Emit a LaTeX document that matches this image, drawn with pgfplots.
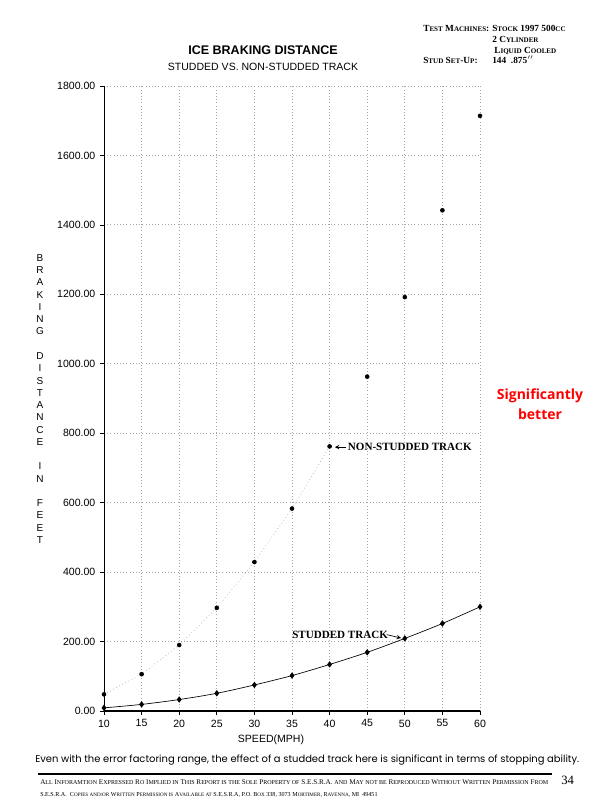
\documentclass[border=0pt]{standalone}
\usepackage{fontspec}
\setmainfont{Liberation Sans}
\newfontfamily\seriffont{Liberation Serif}
\newfontfamily\redfont{Open Sans}
\newfontfamily\comicfont{Poppins}
\usepackage{graphicx}
\usepackage{pgfplots}
\pgfplotsset{compat=1.18}
\newcommand\fs[1]{\fontsize{#1}{#1}\selectfont}
\newcommand\sct[1]{{\fontsize{5.3}{6}\selectfont #1}}
\newcommand\scf[1]{{\fontsize{4.2}{5}\selectfont #1}}
\begin{document}
\begin{tikzpicture}
\useasboundingbox (0pt,0pt) rectangle (450pt,603.75pt);
\begin{axis}[at={(78pt,70.5pt)}, anchor=south west, scale only axis,
  width=282pt, height=468.75pt,
  xmin=10, xmax=60, ymin=0, ymax=1800,
  xtick={10,15,...,60}, ytick={0,200,...,1800},
  axis x line*=bottom, axis y line*=left,
  x axis line style={-, line width=1.1pt},
  y axis line style={-, line width=0.6pt},
  tick align=outside, major tick length=3pt,
  tick style={black, line width=0.5pt},
  grid=major, major grid style={dotted, gray!70, line width=0.6pt},
  ticklabel style={font=\fs{7.9}},
  /pgf/number format/assume math mode=true,
  yticklabel style={/pgf/number format/.cd, fixed, fixed zerofill, precision=2, 1000 sep={}},
  xticklabel style={/pgf/number format/.cd, fixed, precision=0},
  clip=false]
\addplot[gray!50, dotted, line width=0.6pt, forget plot] coordinates {
 (10,48) (15,106) (20,190) (25,297) (30,429) (35,583) (40,762)};
\addplot[only marks, mark=*, mark size=1.5pt, black] coordinates {
 (10,48) (15,106) (20,190) (25,297) (30,429) (35,583) (40,762) (45,963) (50,1192) (55,1442) (60,1714)};
\addplot[black, line width=0.5pt, smooth, mark=diamond*, mark size=2pt] coordinates {
 (10,9) (15,19) (20,33) (25,51) (30,75) (35,102) (40,134) (45,169) (50,209) (55,252) (60,300)};
\draw[-stealth, line width=0.5pt] (axis cs:42.2,760) -- (axis cs:40.7,760);
\node[anchor=west, inner sep=0, font=\seriffont\bfseries\fs{8.3}] at (axis cs:42.4,760) {NON-STUDDED TRACK};
\node[anchor=west, inner sep=0, font=\seriffont\bfseries\fs{8.3}] at (axis cs:35.0,218) {STUDDED TRACK};
\draw[-stealth, line width=0.5pt] (axis cs:47.6,220) -- (axis cs:49.5,210);
\end{axis}
\begin{scope}[x=0.75pt,y=0.75pt]
% titles
\node[font=\bfseries\fs{9.4}, inner sep=0] at (263,755) {ICE BRAKING DISTANCE};
\node[font=\fs{7.9}, inner sep=0] at (263,738) {STUDDED VS. NON-STUDDED TRACK};
% top right block
\begin{scope}[every node/.style={anchor=base west, inner sep=0, font=\seriffont\bfseries\fs{7}}]
\node at (423,805-32) {T\sct{EST} M\sct{ACHINES}:};
\node at (492,805-32) {S\sct{TOCK} 1997 500\sct{CC}};
\node at (492,805-43) {2 C\sct{YLINDER}};
\node at (494,805-53.5) {L\sct{IQUID} C\sct{OOLED}};
\node at (423,805-64) {S\sct{TUD} S\sct{ET}-U\sct{P}:};
\node at (492,805-64) {144\ \ .875$^{\prime\prime}$};
\end{scope}
% y label
\foreach \l [count=\i from 0] in {B,R,A,K,I,N,G,{},D,I,S,T,A,N,C,E,{},I,N,{},F,E,E,T}
  \node[font=\fs{7.5}, inner sep=0] at (40,805-258-\i*12.26) {\l};
% x label
\node[font=\fs{7.9}, inner sep=0] at (271,805-740) {SPEED(MPH)};
% red note
\node[font=\redfont\bfseries\fontsize{10.5}{15}\selectfont, text=red, align=center, inner sep=0] at (540,805-404) {Significantly\\better};
% comment
\node[anchor=base west, inner sep=0] at (35,805-763) {\resizebox{408pt}{!}{\comicfont\fs{8}Even with the error factoring range, the effect of a studded track here is significant in terms of stopping ability.}};
\draw[line width=2pt] (38,805-774) -- (552,805-774);
\node[anchor=base west, inner sep=0] at (40,805-785) {\resizebox{381pt}{!}{\seriffont\fs{5}A\scf{LL} I\scf{NFORAMTION} E\scf{XPRESSED} R\scf{O} I\scf{MPLIED IN} T\scf{HIS} R\scf{EPORT IS THE} S\scf{OLE} P\scf{ROPERTY OF} S.E.S.R.A. \scf{AND} M\scf{AY NOT BE} R\scf{EPRODUCED} W\scf{ITHOUT} W\scf{RITTEN} P\scf{ERMISSION} F\scf{ROM}}};
\node[anchor=base west, inner sep=0] at (40,805-797) {\resizebox{253pt}{!}{\seriffont\fs{5}S.E.S.R.A. \ C\scf{OPIES AND/OR} W\scf{RITTEN} P\scf{ERMISSION IS} A\scf{VAILABLE AT} S.E.S.R.A, P.O. B\scf{OX} 338, 3073 M\scf{ORTIMER}, R\scf{AVENNA}, MI\ \ 49451}};
\node[anchor=base west, inner sep=0, font=\seriffont\fs{9.5}] at (561,805-785) {34};
\end{scope}
\end{tikzpicture}
\end{document}
